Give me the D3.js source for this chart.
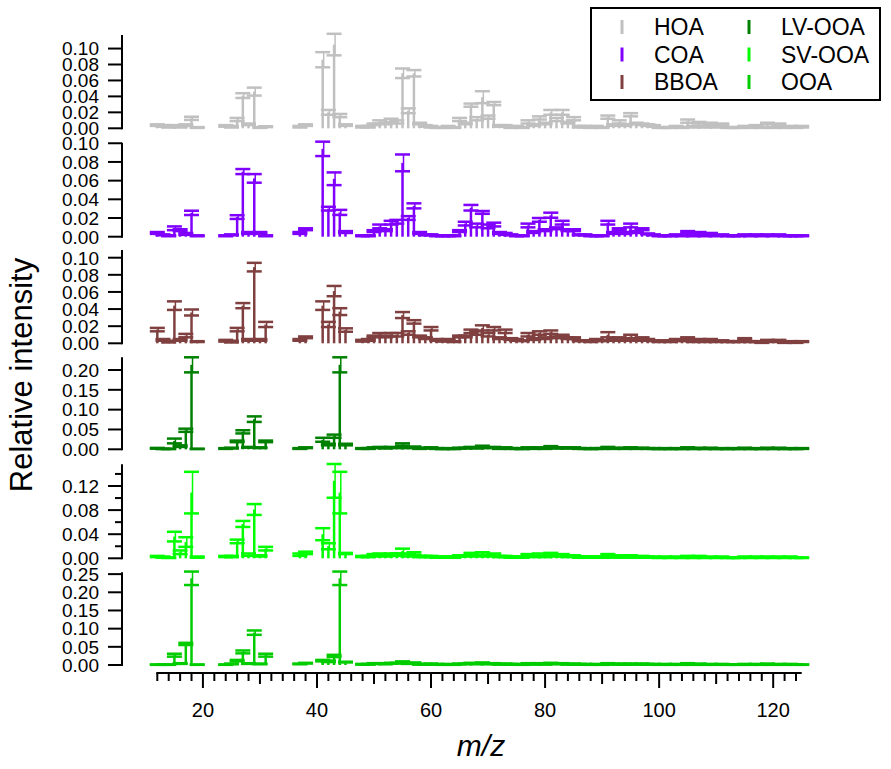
<!DOCTYPE html>
<html>
<head>
<meta charset="utf-8">
<script src="https://cdn.jsdelivr.net/npm/d3@7"></script>
<style>
  body { margin: 0; background: #fff; }
  svg { display: block; font-family: "Liberation Sans", Arial, sans-serif; }
</style>
</head>
<body>
<svg id="chart" width="891" height="769"></svg>
<script>
// m/z channels (gaps where channels were excluded)
const mz = [12, 13, 14, 15, 16, 17, 18, 19,
  24, 25, 26, 27, 28, 29, 30, 31,
  37, 38, 41, 42, 43, 44, 45,
  48, 49, 50, 51, 52, 53, 54, 55, 56, 57, 58, 59, 60, 61, 62, 63, 64, 65, 66, 67, 68, 69,
  70, 71, 72, 73, 74, 75, 76, 77, 78, 79, 80, 81, 82, 83, 84, 85, 86, 87, 88, 89, 90,
  91, 92, 93, 94, 95, 96, 97, 98, 99, 100, 101, 102, 103, 104, 105, 106, 107, 108, 109, 110,
  111, 112, 113, 114, 115, 116, 117, 118, 119, 120, 121, 122, 123, 124, 125];

const factorNames = ["HOA", "COA", "BBOA", "LV-OOA", "SV-OOA", "OOA"];
const factorColors = ["#c0c0c0", "#8000ff", "#804040", "#008000", "#00ff00", "#00cc00"];

// profile values (same order as mz)
const hoa = [.004, .003, .002, .003, .002, .004, .0125, .001,
  .003, .002, .011, .041, .005, .046, .001, .002,
  .002, .004, .086, .020, .105, .016, .004,
  .002, .002, .005, .008, .006, .010, .008, .069, .022, .069, .006, .003, .002, .001, .001, .002, .001, .011, .006, .029, .012, .039,
  .014, .031, .003, .003, .001, .002, .001, .008, .004, .013, .006, .020, .011, .020, .007, .012, .002, .002, .001, .002, .001,
  .014, .004, .008, .004, .017, .006, .005, .004, .003, .001, .001, .001, .002, .001, .009, .002, .007, .002, .006, .002,
  .005, .001, .001, .001, .002, .001, .003, .001, .006, .001, .005, .001, .002, .001, .002];
const hoaErr = [.001, .001, .001, .001, .001, .001, .002, .0005,
  .001, .001, .002, .003, .001, .005, .0005, .0005,
  .001, .001, .0095, .003, .0135, .002, .001,
  .001, .001, .001, .002, .001, .002, .002, .006, .003, .004, .001, .001, .001, .0005, .0005, .001, .0005, .002, .001, .002, .002, .0075,
  .002, .002, .001, .001, .0005, .001, .0005, .002, .001, .002, .001, .003, .002, .003, .001, .002, .001, .001, .0005, .001, .0005,
  .002, .001, .002, .001, .002, .001, .001, .001, .001, .0005, .0005, .0005, .001, .0005, .002, .001, .001, .001, .001, .001,
  .001, .0005, .0005, .0005, .001, .0005, .001, .0005, .001, .0005, .001, .0005, .001, .0005, .001];

const coa = [.004, .002, .001, .009, .007, .003, .0255, .001,
  .001, .002, .021, .0697, .004, .0624, .004, .001,
  .004, .008, .094, .030, .062, .026, .005,
  .001, .001, .006, .011, .007, .015, .016, .079, .020, .033, .004, .002, .002, .001, .001, .001, .001, .006, .014, .031, .012, .026,
  .011, .013, .004, .003, .002, .001, .001, .012, .005, .018, .007, .023, .009, .015, .007, .007, .002, .002, .001, .001, .001,
  .015, .004, .008, .004, .012, .005, .008, .003, .002, .001, .001, .001, .002, .001, .005, .001, .004, .001, .003, .001,
  .002, .001, .001, .001, .002, .001, .002, .001, .002, .001, .002, .001, .001, .001, .001];
const coaErr = [.001, .0005, .0005, .002, .001, .001, .0023, .0005,
  .0005, .0005, .002, .0027, .001, .0046, .001, .0005,
  .001, .001, .0077, .002, .0068, .0027, .001,
  .0005, .0005, .001, .002, .001, .002, .002, .009, .002, .0027, .001, .0005, .0005, .0005, .0005, .0005, .0005, .001, .002, .003, .002, .0015,
  .002, .002, .001, .001, .0005, .0005, .0005, .002, .001, .002, .001, .0027, .001, .002, .001, .001, .0005, .0005, .0005, .0005, .0005,
  .002, .001, .001, .001, .002, .001, .001, .0005, .0005, .0005, .0005, .0005, .0005, .0005, .001, .0005, .001, .0005, .001, .0005,
  .0005, .0005, .0005, .0005, .0005, .0005, .0005, .0005, .0005, .0005, .0005, .0005, .0005, .0005, .0005];

const bboa = [.016, .004, .002, .044, .004, .009, .036, .002,
  .003, .002, .016, .044, .004, .089, .004, .022,
  .004, .007, .044, .022, .061, .037, .0155,
  .003, .004, .008, .010, .008, .010, .010, .033, .012, .025, .008, .006, .017, .004, .003, .004, .002, .008, .008, .014, .012, .018,
  .010, .017, .006, .014, .005, .004, .003, .010, .005, .012, .006, .013, .007, .009, .006, .006, .003, .003, .002, .004, .003,
  .010, .004, .006, .004, .008, .004, .006, .004, .003, .002, .003, .002, .004, .003, .006, .002, .004, .002, .004, .002,
  .003, .002, .002, .002, .005, .002, .002, .001, .003, .002, .003, .001, .002, .001, .002];
const bboaErr = [.002, .001, .001, .005, .001, .002, .0035, .0005,
  .001, .001, .002, .003, .001, .005, .001, .003,
  .001, .001, .005, .003, .006, .004, .002,
  .001, .001, .001, .002, .001, .002, .002, .0035, .002, .002, .001, .001, .002, .001, .001, .001, .0005, .001, .001, .002, .002, .003,
  .002, .002, .001, .002, .001, .001, .0005, .002, .001, .002, .001, .002, .001, .001, .001, .001, .0005, .0005, .0005, .001, .0005,
  .003, .001, .001, .001, .002, .001, .001, .001, .0005, .0005, .0005, .0005, .001, .0005, .001, .0005, .001, .0005, .001, .0005,
  .0005, .0005, .0005, .0005, .001, .0005, .0005, .0005, .001, .0005, .001, .0005, .0005, .0005, .0005];

const lvooa = [.0025, .001, .001, .021, .008, .048, .213, .001,
  .002, .003, .020, .044, .005, .076, .004, .020,
  .002, .004, .024, .012, .033, .213, .012,
  .002, .002, .004, .005, .003, .005, .004, .012, .004, .006, .002, .003, .004, .002, .001, .002, .001, .003, .003, .005, .003, .007,
  .004, .005, .002, .004, .002, .002, .001, .004, .002, .004, .002, .006, .003, .004, .003, .004, .002, .002, .001, .002, .002,
  .004, .002, .003, .002, .004, .002, .003, .002, .002, .001, .002, .001, .002, .001, .004, .001, .003, .001, .003, .001,
  .002, .001, .002, .001, .003, .001, .002, .001, .003, .001, .003, .001, .002, .001, .002];
const lvooaErr = [.001, .0005, .0005, .006, .002, .004, .019, .0005,
  .001, .001, .002, .004, .001, .007, .001, .002,
  .001, .001, .005, .002, .004, .019, .002,
  .001, .001, .001, .001, .001, .001, .001, .003, .001, .001, .001, .001, .001, .001, .0005, .001, .0005, .001, .001, .001, .001, .002,
  .001, .001, .001, .001, .001, .001, .0005, .001, .001, .001, .001, .002, .001, .001, .001, .001, .001, .001, .0005, .001, .001,
  .002, .001, .001, .001, .001, .001, .001, .001, .001, .0005, .001, .0005, .001, .0005, .001, .0005, .001, .0005, .001, .0005,
  .001, .0005, .001, .0005, .001, .0005, .001, .0005, .001, .0005, .001, .0005, .001, .0005, .001];

const svooa = [.003, .002, .001, .036, .010, .027, .109, .002,
  .003, .003, .028, .057, .006, .081, .004, .016,
  .006, .009, .040, .020, .1285, .109, .008,
  .003, .003, .005, .006, .004, .006, .006, .012, .005, .008, .003, .003, .003, .002, .002, .002, .002, .004, .004, .007, .004, .008,
  .004, .006, .003, .003, .002, .002, .002, .005, .003, .006, .003, .007, .004, .005, .003, .004, .002, .002, .002, .002, .002,
  .005, .002, .004, .002, .004, .002, .003, .002, .002, .001, .002, .001, .002, .001, .003, .001, .003, .001, .002, .001,
  .002, .001, .001, .001, .002, .001, .002, .001, .002, .001, .002, .001, .002, .001, .001];
const svooaErr = [.001, .001, .0005, .008, .003, .008, .0345, .001,
  .001, .001, .003, .005, .002, .009, .001, .003,
  .002, .002, .010, .005, .028, .0345, .001,
  .001, .001, .002, .002, .001, .002, .002, .004, .002, .002, .001, .001, .001, .001, .001, .001, .001, .001, .001, .002, .001, .002,
  .001, .002, .001, .001, .001, .001, .001, .002, .001, .002, .001, .002, .001, .002, .001, .001, .001, .001, .001, .001, .001,
  .002, .001, .001, .001, .001, .001, .001, .001, .001, .0005, .001, .0005, .001, .0005, .001, .0005, .001, .0005, .001, .0005,
  .001, .0005, .0005, .0005, .001, .0005, .001, .0005, .001, .0005, .001, .0005, .001, .0005, .0005];

const ooa = [.001, .001, .001, .027, .004, .058, .2385, .001,
  .001, .003, .012, .036, .004, .089, .003, .027,
  .003, .005, .012, .010, .025, .2385, .008,
  .002, .002, .004, .004, .003, .005, .005, .008, .004, .006, .002, .002, .003, .002, .001, .002, .001, .003, .003, .005, .003, .006,
  .003, .004, .002, .003, .002, .002, .001, .004, .002, .004, .002, .005, .003, .004, .002, .003, .002, .002, .001, .002, .001,
  .004, .002, .003, .002, .003, .002, .003, .002, .002, .001, .002, .001, .002, .001, .004, .001, .003, .001, .002, .001,
  .002, .001, .001, .001, .002, .001, .002, .001, .003, .001, .002, .001, .002, .001, .001];
const ooaErr = [.0005, .0005, .0005, .004, .001, .003, .0185, .0005,
  .0005, .001, .002, .004, .001, .006, .001, .004,
  .001, .001, .002, .002, .003, .0185, .001,
  .001, .001, .001, .001, .001, .001, .001, .002, .001, .001, .001, .001, .001, .001, .0005, .001, .0005, .001, .001, .001, .001, .001,
  .001, .001, .001, .001, .001, .001, .0005, .001, .001, .001, .001, .001, .001, .001, .001, .001, .001, .001, .0005, .001, .0005,
  .001, .001, .001, .001, .001, .001, .001, .001, .001, .0005, .001, .0005, .001, .0005, .001, .0005, .001, .0005, .001, .0005,
  .001, .0005, .0005, .0005, .001, .0005, .001, .0005, .001, .0005, .001, .0005, .001, .0005, .0005];

// y axis settings per panel
const yMaxes = [0.117, 0.1006, 0.109, 0.232, 0.156, 0.255];
const yTickSteps = [0.02, 0.02, 0.02, 0.05, 0.04, 0.05];
const xTicks = [20, 40, 60, 80, 100, 120];

const profiles = [hoa, coa, bboa, lvooa, svooa, ooa];
const errors = [hoaErr, coaErr, bboaErr, lvooaErr, svooaErr, ooaErr];

// layout (pixels)
const panelBottoms = [128.3, 236.7, 343.3, 449.3, 558.3, 665];
const panelTops = [35, 142.7, 250, 357.3, 464.3, 572.3];
const yAxisX = 122;
const capHalf = 7.5;

const svg = d3.select("#chart");

const x = d3.scaleLinear().domain([12, 125]).range([157.3, 801.7]);
const fmt = d3.format(".2f");

factorNames.forEach((name, p) => {
  const color = factorColors[p];
  const y = d3.scaleLinear().domain([0, yMaxes[p]]).range([panelBottoms[p], panelTops[p]]);
  const g = svg.append("g").attr("class", "panel");

  const pts = mz.map((m, i) => ({ m, v: profiles[p][i], e: errors[p][i] }));

  // sticks from zero
  g.selectAll("line.stick").data(pts).join("line")
    .attr("class", "stick")
    .attr("x1", d => x(d.m)).attr("x2", d => x(d.m))
    .attr("y1", y(0)).attr("y2", d => y(d.v))
    .attr("stroke", color).attr("stroke-width", 2.5);

  // error bars
  g.selectAll("line.err").data(pts).join("line")
    .attr("class", "err")
    .attr("x1", d => x(d.m) + 1).attr("x2", d => x(d.m) + 1)
    .attr("y1", d => y(Math.max(0, d.v - d.e))).attr("y2", d => y(d.v + d.e))
    .attr("stroke", color).attr("stroke-width", 1.5);

  g.selectAll("line.capHi").data(pts).join("line")
    .attr("class", "capHi")
    .attr("x1", d => x(d.m) - capHalf).attr("x2", d => x(d.m) + capHalf)
    .attr("y1", d => y(d.v + d.e)).attr("y2", d => y(d.v + d.e))
    .attr("stroke", color).attr("stroke-width", 2.5);

  g.selectAll("line.capLo").data(pts).join("line")
    .attr("class", "capLo")
    .attr("x1", d => x(d.m) - capHalf).attr("x2", d => x(d.m) + capHalf)
    .attr("y1", d => y(Math.max(0, d.v - d.e))).attr("y2", d => y(Math.max(0, d.v - d.e)))
    .attr("stroke", color).attr("stroke-width", 2.5);

  // left axis
  const ax = svg.append("g").attr("class", "yaxis");
  ax.append("line")
    .attr("x1", yAxisX).attr("x2", yAxisX)
    .attr("y1", y(0) + 1).attr("y2", y(yMaxes[p]))
    .attr("stroke", "#000").attr("stroke-width", 2);

  const step = yTickSteps[p];
  const major = d3.range(0, yMaxes[p] + 1e-9, step).map(v => +v.toFixed(3));
  ax.selectAll("line.tick").data(major).join("line")
    .attr("class", "tick")
    .attr("x1", yAxisX - 14).attr("x2", yAxisX)
    .attr("y1", d => y(d)).attr("y2", d => y(d))
    .attr("stroke", "#000").attr("stroke-width", 2);
  ax.selectAll("text").data(major).join("text")
    .attr("x", 99).attr("y", d => y(d))
    .attr("dy", "0.36em")
    .attr("text-anchor", "end")
    .attr("font-size", 19)
    .text(d => fmt(d));

  if (name === "SV-OOA") {
    const minor = d3.range(step / 2, yMaxes[p], step).map(v => +v.toFixed(3));
    ax.selectAll("line.minor").data(minor).join("line")
      .attr("class", "minor")
      .attr("x1", yAxisX - 7).attr("x2", yAxisX)
      .attr("y1", d => y(d)).attr("y2", d => y(d))
      .attr("stroke", "#000").attr("stroke-width", 2);
  }
});

// bottom axis
const xAxisY = 673;
const xa = svg.append("g").attr("class", "xaxis");
xa.append("line")
  .attr("x1", x(12) - 1).attr("x2", x(125))
  .attr("y1", xAxisY).attr("y2", xAxisY)
  .attr("stroke", "#000").attr("stroke-width", 2);
const xt = d3.range(12, 125, 2);
xa.selectAll("line.tick").data(xt).join("line")
  .attr("class", "tick")
  .attr("x1", d => x(d)).attr("x2", d => x(d))
  .attr("y1", xAxisY)
  .attr("y2", d => xAxisY + (d % 20 === 0 ? 15 : d % 10 === 0 ? 11 : 8))
  .attr("stroke", "#000").attr("stroke-width", 2);
xa.selectAll("text").data(xTicks).join("text")
  .attr("x", d => x(d)).attr("y", 717)
  .attr("text-anchor", "middle")
  .attr("font-size", 20)
  .text(d => d);

// axis titles
svg.append("text")
  .attr("transform", "translate(32,375) rotate(-90)")
  .attr("text-anchor", "middle")
  .attr("font-size", 31)
  .text("Relative intensity");
svg.append("text")
  .attr("x", 481).attr("y", 756)
  .attr("text-anchor", "middle")
  .attr("font-size", 30)
  .attr("font-style", "italic")
  .text("m/z");

// legend
const lg = svg.append("g").attr("class", "legend");
lg.append("rect")
  .attr("x", 591).attr("y", 8).attr("width", 289).attr("height", 92)
  .attr("fill", "#fff").attr("stroke", "#000").attr("stroke-width", 2);
factorNames.forEach((name, i) => {
  const col = Math.floor(i / 3), row = i % 3;
  const lx = col === 0 ? 622 : 749;
  const ly = 27 + row * 27.5;
  lg.append("line")
    .attr("x1", lx).attr("x2", lx)
    .attr("y1", ly - 7).attr("y2", ly + 7)
    .attr("stroke", factorColors[i]).attr("stroke-width", 3);
  lg.append("text")
    .attr("x", lx + 32).attr("y", ly)
    .attr("dy", "0.36em")
    .attr("font-size", 23)
    .text(name);
});
</script>
</body>
</html>
